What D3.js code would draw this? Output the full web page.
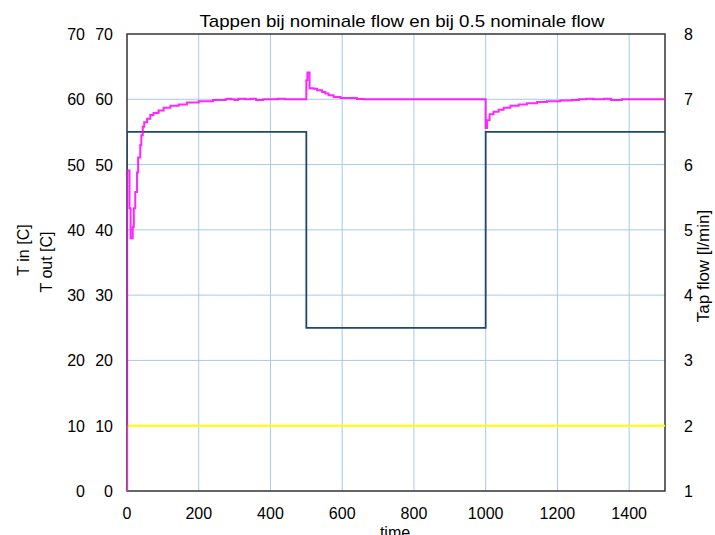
<!DOCTYPE html>
<html>
<head>
<meta charset="utf-8">
<script src="https://cdn.jsdelivr.net/npm/d3@7"></script>
<style>
  body { margin: 0; background: #fff; }
  svg { font-family: "Liberation Sans", Arial, sans-serif; }
</style>
</head>
<body>
<svg width="715" height="535"></svg>
<script>
// T out (magenta), stepwise
var outTime = [0, 0.5, 7, 10, 16, 19, 23, 28, 31, 37, 40, 44, 48, 56, 65, 74, 88, 102, 121, 144, 167, 200, 240, 275,
  280, 290, 300, 310, 330, 345, 360, 380, 420, 440,
  500, 503, 509, 520, 530, 544, 553, 562, 576, 595, 641, 660,
  1000, 1004, 1011, 1022, 1036, 1050, 1069, 1092, 1115, 1143, 1171, 1208, 1240, 1260, 1280, 1300, 1330, 1350, 1380, 1500]
var outTemp = [0, 49.1, 43.3, 38.7, 40.4, 43.3, 45.8, 48.8, 51.1, 53.0, 54.5, 55.8, 56.5, 57.0, 57.6, 57.9, 58.3, 58.7, 59.0, 59.2, 59.5, 59.7, 59.9, 60.0,
  60.1, 60.0, 59.9, 60.1, 60.0, 60.1, 59.9, 60.0, 60.1, 60.0,
  62.9, 64.1, 61.7, 61.6, 61.4, 61.1, 60.9, 60.6, 60.35, 60.2, 60.05, 60.0,
  55.6, 56.8, 57.7, 58.1, 58.4, 58.7, 59.0, 59.2, 59.4, 59.6, 59.7, 59.8, 59.9, 60.0, 60.1, 60.0, 60.1, 59.9, 60.0, 60.0]

// T in (yellow)
var inTime = [0, 0, 1500]
var inTemp = [0, 10, 10]

// tap flow (dark blue), right axis
var flowTime = [0, 0, 500, 1000, 1500]
var flowVal = [0, 6.5, 3.5, 6.5, 6.5]

var xTicks = [0, 200, 400, 600, 800, 1000, 1200, 1400]
var yTicks = [0, 10, 20, 30, 40, 50, 60, 70]
var y2Ticks = [1, 2, 3, 4, 5, 6, 7, 8]

var pL = 127, pR = 665, pT = 34, pB = 491

var svg = d3.select("svg")

var x = d3.scaleLinear().domain([0, 1500]).range([pL, pR])
var y = d3.scaleLinear().domain([0, 70]).range([pB, pT])
var y2 = d3.scaleLinear().domain([1, 8]).range([pB, pT])

svg.append("defs").append("clipPath").attr("id", "clip")
  .append("rect").attr("x", pL).attr("y", pT - 2).attr("width", pR - pL).attr("height", pB - pT + 2)

// grid
var grid = svg.append("g")
grid.selectAll(".gx").data(xTicks.filter(d => d > 0))
  .enter().append("line")
  .attr("x1", d => x(d)).attr("x2", d => x(d))
  .attr("y1", pT).attr("y2", pB)
  .attr("stroke", "#a9c9ee").attr("stroke-width", 1)
grid.selectAll(".gy").data(yTicks.filter(d => d > 0 && d < 70))
  .enter().append("line")
  .attr("x1", pL).attr("x2", pR)
  .attr("y1", d => y(d)).attr("y2", d => y(d))
  .attr("stroke", "#a9c9ee").attr("stroke-width", 1)

// frame
svg.append("rect")
  .attr("x", pL).attr("y", pT).attr("width", pR - pL).attr("height", pB - pT)
  .attr("fill", "none").attr("stroke", "#333").attr("stroke-width", 1.5)

var lines = svg.append("g").attr("clip-path", "url(#clip)")

var flowLine = d3.line().curve(d3.curveStepAfter)
  .x((d, i) => x(flowTime[i])).y(d => y2(d))
lines.append("path").attr("d", flowLine(flowVal))
  .attr("fill", "none").attr("stroke", "#1c4873").attr("stroke-width", 1.8)

var inLine = d3.line().curve(d3.curveStepAfter)
  .x((d, i) => x(inTime[i])).y(d => y(d))
lines.append("path").attr("d", inLine(inTemp))
  .attr("fill", "none").attr("stroke", "#ffff00").attr("stroke-width", 2)

var outLine = d3.line().curve(d3.curveStepAfter)
  .x((d, i) => x(outTime[i])).y(d => y(d))
lines.append("path").attr("d", outLine(outTemp))
  .attr("fill", "none").attr("stroke", "#ff00ff").attr("stroke-width", 2).attr("opacity", 0.85)

// tick labels
var fs = 16
svg.append("g").selectAll("text").data(xTicks)
  .enter().append("text")
  .attr("x", d => x(d)).attr("y", 519)
  .attr("text-anchor", "middle").attr("font-size", fs)
  .text(d => d)

svg.append("g").selectAll("text").data(yTicks)
  .enter().append("text")
  .attr("x", 85).attr("y", d => y(d) + 6)
  .attr("text-anchor", "end").attr("font-size", fs)
  .text(d => d)
svg.append("g").selectAll("text").data(yTicks)
  .enter().append("text")
  .attr("x", 113).attr("y", d => y(d) + 6)
  .attr("text-anchor", "end").attr("font-size", fs)
  .text(d => d)

svg.append("g").selectAll("text").data(y2Ticks)
  .enter().append("text")
  .attr("x", 684).attr("y", d => y2(d) + 6)
  .attr("text-anchor", "start").attr("font-size", fs)
  .text(d => d)

// axis titles
svg.append("text")
  .attr("x", 402).attr("y", 27)
  .attr("text-anchor", "middle").attr("font-size", 17)
  .attr("textLength", 405).attr("lengthAdjust", "spacingAndGlyphs")
  .text("Tappen bij nominale flow en bij 0.5 nominale flow")

svg.append("text")
  .attr("x", 395).attr("y", 538)
  .attr("text-anchor", "middle").attr("font-size", fs)
  .text("time")

svg.append("text")
  .attr("transform", "translate(29,250) rotate(-90)")
  .attr("text-anchor", "middle").attr("font-size", fs)
  .text("T in [C]")
svg.append("text")
  .attr("transform", "translate(52,262) rotate(-90)")
  .attr("text-anchor", "middle").attr("font-size", fs)
  .text("T out [C]")

svg.append("text")
  .attr("transform", "translate(709,266) rotate(-90)")
  .attr("text-anchor", "middle").attr("font-size", 17)
  .text("Tap flow [l/min]")
</script>
</body>
</html>
